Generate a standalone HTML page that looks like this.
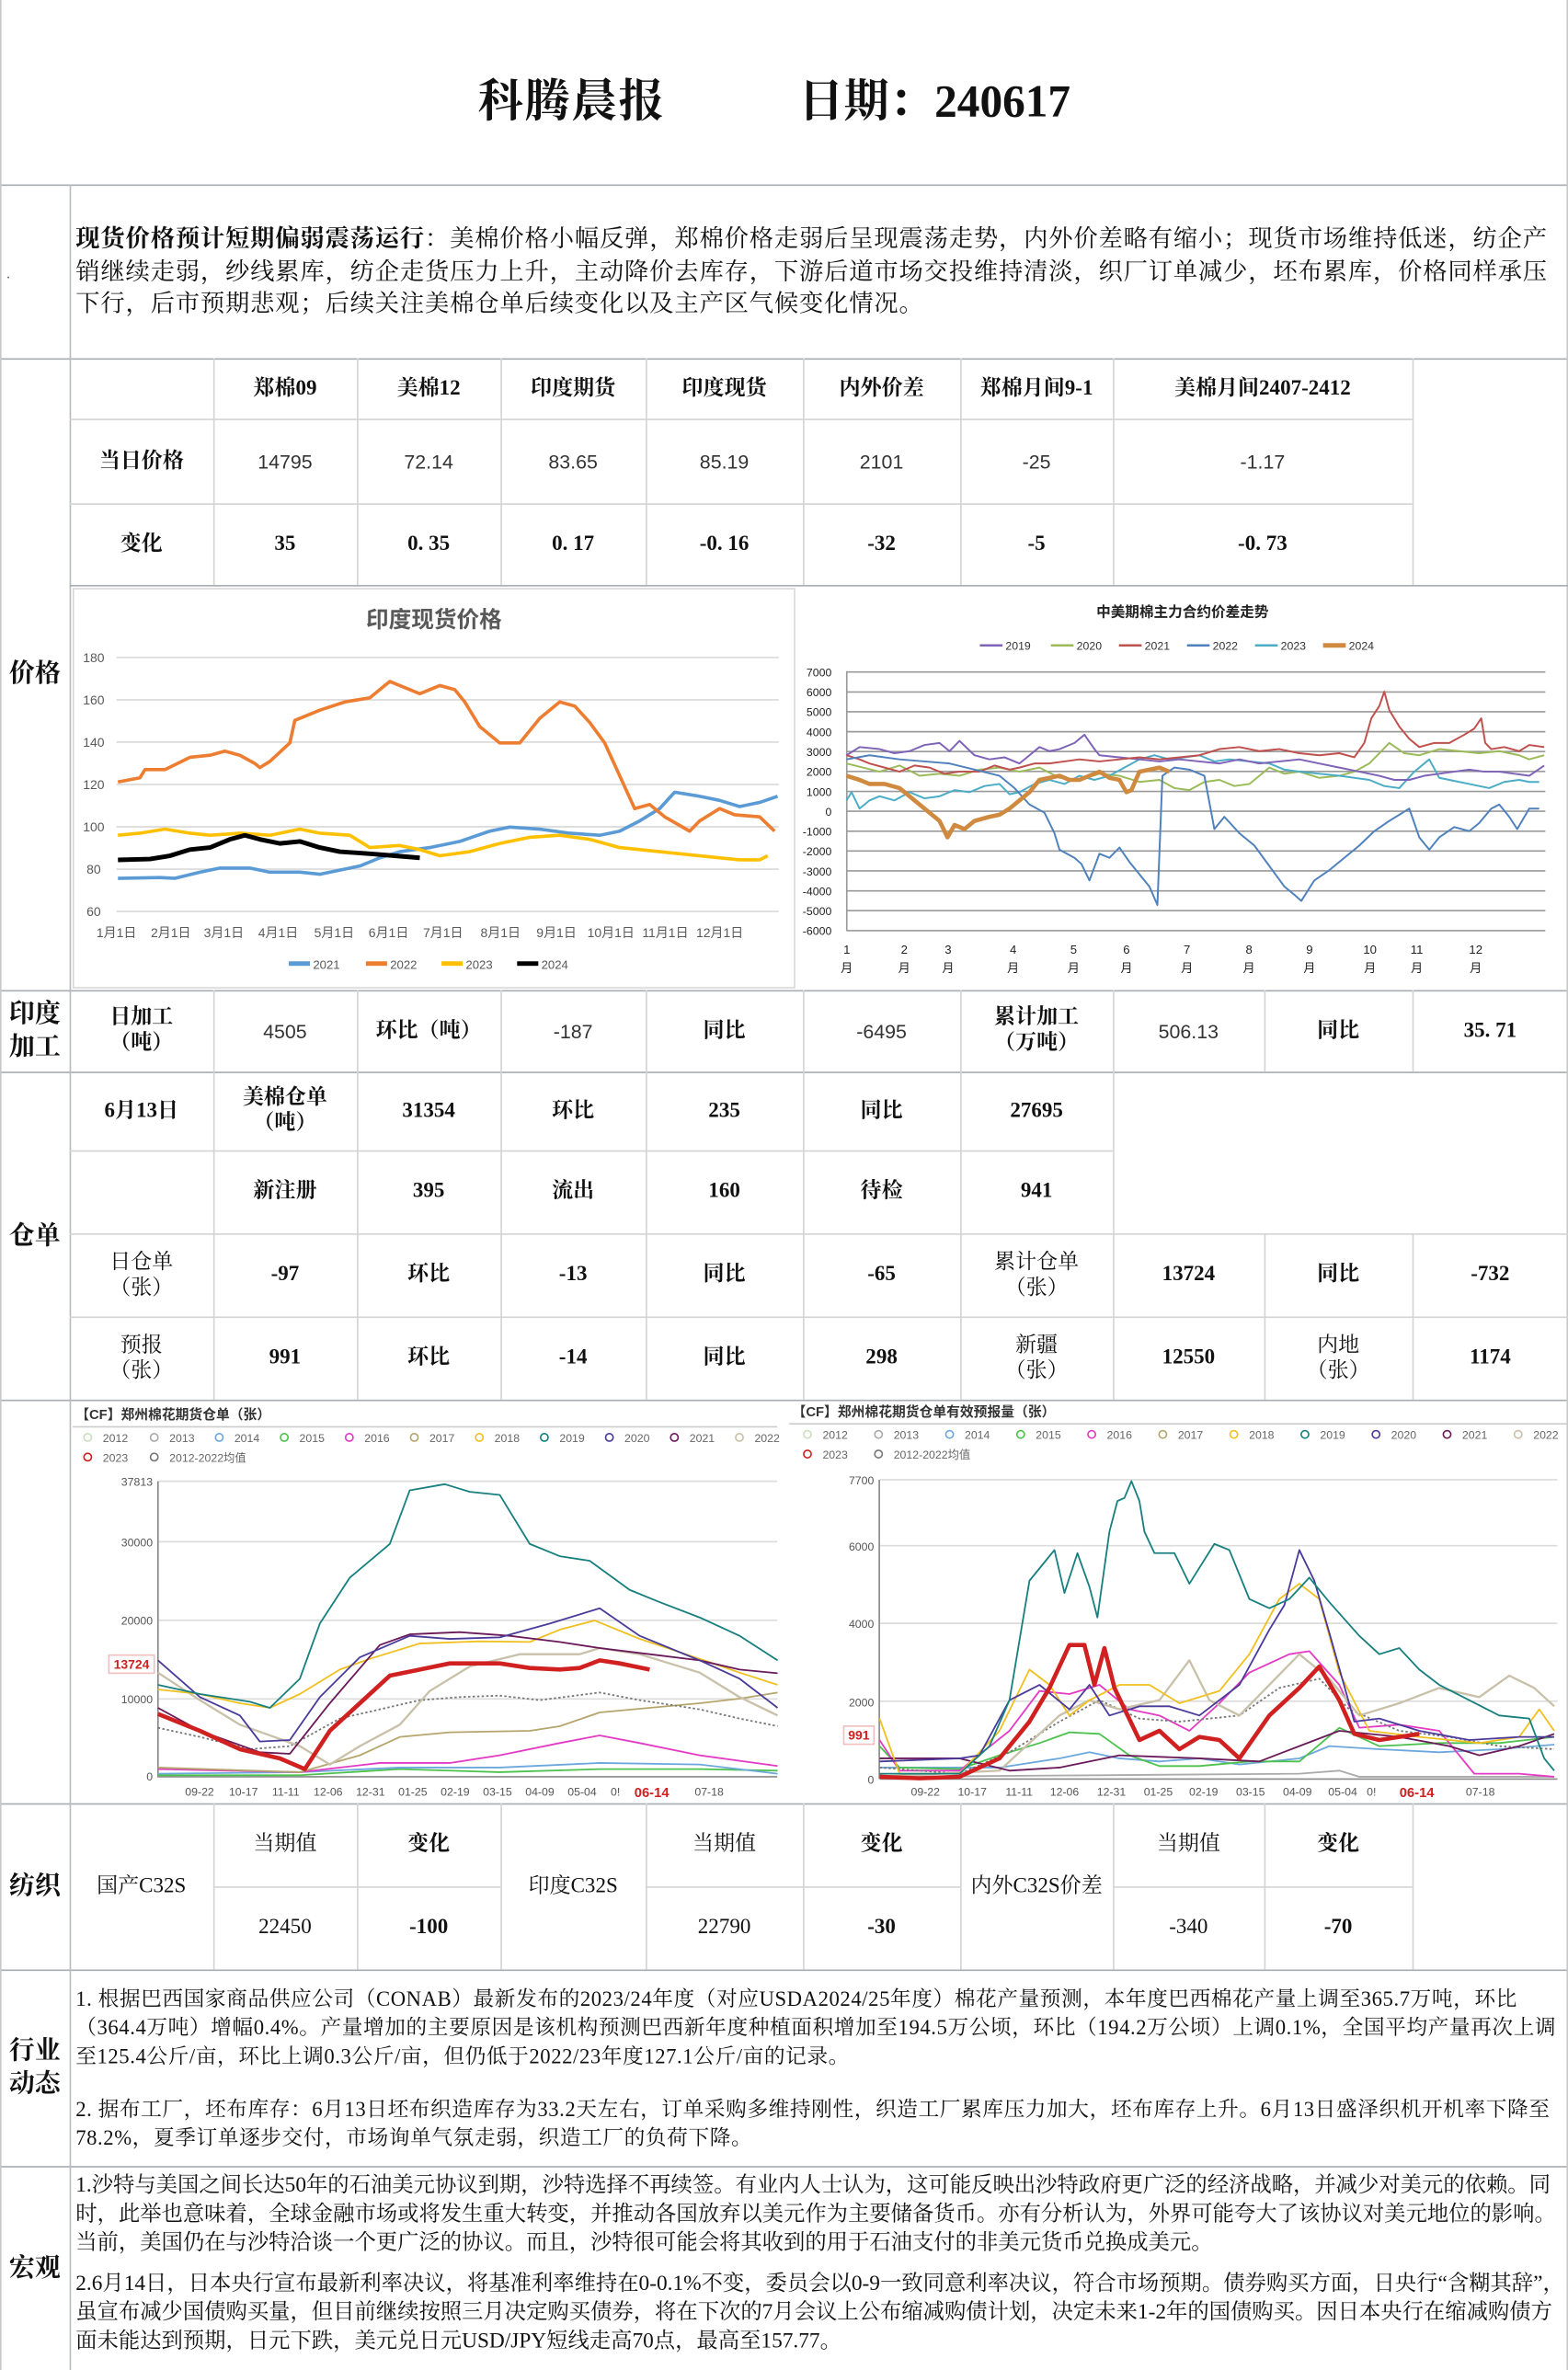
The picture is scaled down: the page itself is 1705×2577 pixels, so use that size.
<!DOCTYPE html>
<html><head><meta charset="utf-8">
<style>
html,body{margin:0;padding:0;background:#fff;}
body{width:1705px;height:2577px;overflow:hidden;}
#root{position:absolute;left:0;top:0;width:1037px;height:1568px;transform:scale(1.6442,1.6435);transform-origin:0 0;font-family:"Liberation Serif","Noto Serif CJK SC",serif;color:#111;}
.c{position:absolute;display:flex;align-items:center;justify-content:center;text-align:center;font-size:14px;line-height:17px;box-sizing:border-box;}
.b{font-weight:bold;}
.s{font-family:"Liberation Sans","Noto Sans CJK SC",sans-serif;font-size:13px;color:#333;}
.h{position:absolute;background:#d4d4d4;height:1px;}
.v{position:absolute;background:#d4d4d4;width:1px;}
.H{position:absolute;background:#a8adb3;height:1px;}
.lab{position:absolute;left:0;width:46px;display:flex;align-items:center;justify-content:center;text-align:center;font-weight:bold;font-size:17px;line-height:22px;}
.p{position:absolute;font-family:"Liberation Serif","Noto Serif CJK SC",serif;}
</style></head><body><div id="root">

<div style="position:absolute;left:316px;top:42px;font-size:30px;font-weight:bold;letter-spacing:1px;">科腾晨报</div>
<div style="position:absolute;left:528px;top:42px;font-size:30px;font-weight:bold;">日期：240617</div>

<div class="H" style="left:0;top:122px;width:1037px"></div>
<div class="H" style="left:0;top:237px;width:1037px"></div>
<div class="H" style="left:0;top:655px;width:1037px"></div>
<div class="H" style="left:0;top:926px;width:1037px"></div>
<div class="H" style="left:0;top:1193px;width:1037px"></div>
<div class="H" style="left:0;top:1303px;width:1037px"></div>
<div class="H" style="left:0;top:1433px;width:1037px"></div>
<div class="H" style="left:0;top:709px;width:1037px"></div>
<div class="v" style="left:46px;top:122px;height:1446px;background:#b8bcc0"></div>
<div class="v" style="left:0;top:0;height:1568px;background:#c8c8c8"></div>
<div class="v" style="left:1036px;top:0;height:1568px;background:#c8c8c8"></div>
<div style="position:absolute;left:5px;top:183px;width:1px;height:1px;background:#555"></div>

<div class="p" style="left:50px;top:148px;width:978px;font-size:16px;letter-spacing:0.5px;line-height:21.5px;"><b>现货价格预计短期偏弱震荡运行</b>：美棉价格小幅反弹，郑棉价格走弱后呈现震荡走势，内外价差略有缩小；现货市场维持低迷，纺企产销继续走弱，纱线累库，纺企走货压力上升，主动降价去库存，下游后道市场交投维持清淡，织厂订单减少，坯布累库，价格同样承压下行，后市预期悲观；后续关注美棉仓单后续变化以及主产区气候变化情况。</div>

<div class="lab" style="top:237px;height:418px">价格</div>
<div class="lab" style="top:655px;height:54px">印度<br>加工</div>
<div class="lab" style="top:709px;height:217px">仓单</div>
<div class="lab" style="top:1193px;height:110px">纺织</div>
<div class="lab" style="top:1303px;height:130px">行业<br>动态</div>
<div class="lab" style="top:1433px;height:135px">宏观</div>

<div class="h" style="left:46px;top:277px;width:888px"></div>
<div class="h" style="left:46px;top:333px;width:888px"></div>
<div class="h" style="left:46px;top:387px;width:991px;background:#a8adb3"></div>
<div class="v" style="left:141px;top:237px;height:150px"></div>
<div class="v" style="left:236px;top:237px;height:150px"></div>
<div class="v" style="left:331px;top:237px;height:150px"></div>
<div class="v" style="left:427px;top:237px;height:150px"></div>
<div class="v" style="left:531px;top:237px;height:150px"></div>
<div class="v" style="left:635px;top:237px;height:150px"></div>
<div class="v" style="left:736px;top:237px;height:150px"></div>
<div class="v" style="left:934px;top:237px;height:150px"></div>

<div class="c b" style="left:141px;top:237px;width:95px;height:40px">郑棉09</div>
<div class="c b" style="left:236px;top:237px;width:95px;height:40px">美棉12</div>
<div class="c b" style="left:331px;top:237px;width:96px;height:40px">印度期货</div>
<div class="c b" style="left:427px;top:237px;width:104px;height:40px">印度现货</div>
<div class="c b" style="left:531px;top:237px;width:104px;height:40px">内外价差</div>
<div class="c b" style="left:635px;top:237px;width:101px;height:40px">郑棉月间9-1</div>
<div class="c b" style="left:736px;top:237px;width:198px;height:40px">美棉月间2407-2412</div>

<div class="c b" style="left:46px;top:277px;width:95px;height:56px">当日价格</div>
<div class="c s" style="left:141px;top:277px;width:95px;height:56px">14795</div>
<div class="c s" style="left:236px;top:277px;width:95px;height:56px">72.14</div>
<div class="c s" style="left:331px;top:277px;width:96px;height:56px">83.65</div>
<div class="c s" style="left:427px;top:277px;width:104px;height:56px">85.19</div>
<div class="c s" style="left:531px;top:277px;width:104px;height:56px">2101</div>
<div class="c s" style="left:635px;top:277px;width:101px;height:56px">-25</div>
<div class="c s" style="left:736px;top:277px;width:198px;height:56px">-1.17</div>

<div class="c b" style="left:46px;top:333px;width:95px;height:54px">变化</div>
<div class="c b" style="left:141px;top:333px;width:95px;height:54px">35</div>
<div class="c b" style="left:236px;top:333px;width:95px;height:54px">0. 35</div>
<div class="c b" style="left:331px;top:333px;width:96px;height:54px">0. 17</div>
<div class="c b" style="left:427px;top:333px;width:104px;height:54px">-0. 16</div>
<div class="c b" style="left:531px;top:333px;width:104px;height:54px">-32</div>
<div class="c b" style="left:635px;top:333px;width:101px;height:54px">-5</div>
<div class="c b" style="left:736px;top:333px;width:198px;height:54px">-0. 73</div>

<div class="v" style="left:141px;top:655px;height:271px"></div>
<div class="v" style="left:236px;top:655px;height:271px"></div>
<div class="v" style="left:331px;top:655px;height:271px"></div>
<div class="v" style="left:427px;top:655px;height:271px"></div>
<div class="v" style="left:531px;top:655px;height:271px"></div>
<div class="v" style="left:635px;top:655px;height:271px"></div>
<div class="v" style="left:736px;top:655px;height:271px"></div>
<div class="v" style="left:836px;top:655px;height:54px"></div>
<div class="v" style="left:934px;top:655px;height:54px"></div>
<div class="v" style="left:836px;top:816px;height:110px"></div>
<div class="v" style="left:934px;top:816px;height:110px"></div>
<div class="c b" style="left:46px;top:655px;width:95px;height:54px">日加工<br>（吨）</div>
<div class="c s" style="left:141px;top:655px;width:95px;height:54px">4505</div>
<div class="c b" style="left:236px;top:655px;width:95px;height:54px">环比（吨）</div>
<div class="c s" style="left:331px;top:655px;width:96px;height:54px">-187</div>
<div class="c b" style="left:427px;top:655px;width:104px;height:54px">同比</div>
<div class="c s" style="left:531px;top:655px;width:104px;height:54px">-6495</div>
<div class="c b" style="left:635px;top:655px;width:101px;height:54px">累计加工<br>（万吨）</div>
<div class="c s" style="left:736px;top:655px;width:100px;height:54px">506.13</div>
<div class="c b" style="left:836px;top:655px;width:98px;height:54px">同比</div>
<div class="c b" style="left:934px;top:655px;width:103px;height:54px">35. 71</div>

<div class="h" style="left:46px;top:761px;width:690px"></div>
<div class="h" style="left:46px;top:816px;width:991px"></div>
<div class="h" style="left:46px;top:871px;width:991px"></div>
<div class="c b" style="left:46px;top:709px;width:95px;height:52px">6月13日</div>
<div class="c b" style="left:141px;top:709px;width:95px;height:52px">美棉仓单<br>（吨）</div>
<div class="c b" style="left:236px;top:709px;width:95px;height:52px">31354</div>
<div class="c b" style="left:331px;top:709px;width:96px;height:52px">环比</div>
<div class="c b" style="left:427px;top:709px;width:104px;height:52px">235</div>
<div class="c b" style="left:531px;top:709px;width:104px;height:52px">同比</div>
<div class="c b" style="left:635px;top:709px;width:101px;height:52px">27695</div>

<div class="c b" style="left:141px;top:761px;width:95px;height:55px">新注册</div>
<div class="c b" style="left:236px;top:761px;width:95px;height:55px">395</div>
<div class="c b" style="left:331px;top:761px;width:96px;height:55px">流出</div>
<div class="c b" style="left:427px;top:761px;width:104px;height:55px">160</div>
<div class="c b" style="left:531px;top:761px;width:104px;height:55px">待检</div>
<div class="c b" style="left:635px;top:761px;width:101px;height:55px">941</div>

<div class="c" style="left:46px;top:816px;width:95px;height:55px">日仓单<br>（张）</div>
<div class="c b" style="left:141px;top:816px;width:95px;height:55px">-97</div>
<div class="c b" style="left:236px;top:816px;width:95px;height:55px">环比</div>
<div class="c b" style="left:331px;top:816px;width:96px;height:55px">-13</div>
<div class="c b" style="left:427px;top:816px;width:104px;height:55px">同比</div>
<div class="c b" style="left:531px;top:816px;width:104px;height:55px">-65</div>
<div class="c" style="left:635px;top:816px;width:101px;height:55px">累计仓单<br>（张）</div>
<div class="c b" style="left:736px;top:816px;width:100px;height:55px">13724</div>
<div class="c b" style="left:836px;top:816px;width:98px;height:55px">同比</div>
<div class="c b" style="left:934px;top:816px;width:103px;height:55px">-732</div>

<div class="c" style="left:46px;top:871px;width:95px;height:55px">预报<br>（张）</div>
<div class="c b" style="left:141px;top:871px;width:95px;height:55px">991</div>
<div class="c b" style="left:236px;top:871px;width:95px;height:55px">环比</div>
<div class="c b" style="left:331px;top:871px;width:96px;height:55px">-14</div>
<div class="c b" style="left:427px;top:871px;width:104px;height:55px">同比</div>
<div class="c b" style="left:531px;top:871px;width:104px;height:55px">298</div>
<div class="c" style="left:635px;top:871px;width:101px;height:55px">新疆<br>（张）</div>
<div class="c b" style="left:736px;top:871px;width:100px;height:55px">12550</div>
<div class="c" style="left:836px;top:871px;width:98px;height:55px">内地<br>（张）</div>
<div class="c b" style="left:934px;top:871px;width:103px;height:55px">1174</div>

<div class="h" style="left:141px;top:1248px;width:190px"></div>
<div class="h" style="left:427px;top:1248px;width:208px"></div>
<div class="h" style="left:736px;top:1248px;width:198px"></div>
<div class="v" style="left:141px;top:1193px;height:110px"></div>
<div class="v" style="left:236px;top:1193px;height:110px"></div>
<div class="v" style="left:331px;top:1193px;height:110px"></div>
<div class="v" style="left:427px;top:1193px;height:110px"></div>
<div class="v" style="left:531px;top:1193px;height:110px"></div>
<div class="v" style="left:635px;top:1193px;height:110px"></div>
<div class="v" style="left:736px;top:1193px;height:110px"></div>
<div class="v" style="left:836px;top:1193px;height:110px"></div>
<div class="v" style="left:934px;top:1193px;height:110px"></div>
<div class="c" style="left:46px;top:1193px;width:95px;height:110px">国产C32S</div>
<div class="c" style="left:141px;top:1193px;width:95px;height:55px">当期值</div>
<div class="c b" style="left:236px;top:1193px;width:95px;height:55px">变化</div>
<div class="c" style="left:331px;top:1193px;width:96px;height:110px">印度C32S</div>
<div class="c" style="left:427px;top:1193px;width:104px;height:55px">当期值</div>
<div class="c b" style="left:531px;top:1193px;width:104px;height:55px">变化</div>
<div class="c" style="left:635px;top:1193px;width:101px;height:110px">内外C32S价差</div>
<div class="c" style="left:736px;top:1193px;width:100px;height:55px">当期值</div>
<div class="c b" style="left:836px;top:1193px;width:98px;height:55px">变化</div>
<div class="c" style="left:141px;top:1248px;width:95px;height:55px">22450</div>
<div class="c b" style="left:236px;top:1248px;width:95px;height:55px">-100</div>
<div class="c" style="left:427px;top:1248px;width:104px;height:55px">22790</div>
<div class="c b" style="left:531px;top:1248px;width:104px;height:55px">-30</div>
<div class="c" style="left:736px;top:1248px;width:100px;height:55px">-340</div>
<div class="c b" style="left:836px;top:1248px;width:98px;height:55px">-70</div>

<div class="p" style="left:50px;top:1313px;width:986px;font-size:13.8px;letter-spacing:0.35px;line-height:19px;">1.&nbsp;根据巴西国家商品供应公司（CONAB）最新发布的2023/24年度（对应USDA2024/25年度）棉花产量预测，本年度巴西棉花产量上调至365.7万吨，环比（364.4万吨）增幅0.4%。产量增加的主要原因是该机构预测巴西新年度种植面积增加至194.5万公顷，环比（194.2万公顷）上调0.1%，全国平均产量再次上调至125.4公斤/亩，环比上调0.3公斤/亩，但仍低于2022/23年度127.1公斤/亩的记录。</div>
<div class="p" style="left:50px;top:1386px;width:986px;font-size:13.8px;letter-spacing:0.35px;line-height:19px;">2.&nbsp;据布工厂，坯布库存：6月13日坯布织造库存为33.2天左右，订单采购多维持刚性，织造工厂累库压力加大，坯布库存上升。6月13日盛泽织机开机率下降至78.2%，夏季订单逐步交付，市场询单气氛走弱，织造工厂的负荷下降。</div>

<div class="p" style="left:50px;top:1437px;width:986px;font-size:14.2px;line-height:18.8px;">1.沙特与美国之间长达50年的石油美元协议到期，沙特选择不再续签。有业内人士认为，这可能反映出沙特政府更广泛的经济战略，并减少对美元的依赖。同时，此举也意味着，全球金融市场或将发生重大转变，并推动各国放弃以美元作为主要储备货币。亦有分析认为，外界可能夸大了该协议对美元地位的影响。当前，美国仍在与沙特洽谈一个更广泛的协议。而且，沙特很可能会将其收到的用于石油支付的非美元货币兑换成美元。</div>
<div class="p" style="left:50px;top:1502px;width:986px;font-size:14.2px;line-height:18.8px;">2.6月14日，日本央行宣布最新利率决议，将基准利率维持在0-0.1%不变，委员会以0-9一致同意利率决议，符合市场预期。债券购买方面，日央行“含糊其辞”，虽宣布减少国债购买量，但目前继续按照三月决定购买债券，将在下次的7月会议上公布缩减购债计划，决定未来1-2年的国债购买。因日本央行在缩减购债方面未能达到预期，日元下跌，美元兑日元USD/JPY短线走高70点，最高至157.77。</div>

<svg style="position:absolute;left:0;top:0" width="1037" height="1568" viewBox="0 0 1037 1568" font-family="Liberation Sans, Noto Sans CJK SC, sans-serif">
<rect x="48.5" y="389.5" width="477" height="264" fill="none" stroke="#d8d8d8"/>
<text x="287" y="415" font-size="15" fill="#595959" text-anchor="middle" font-weight="bold">印度现货价格</text>
<g stroke="#d9d9d9" stroke-width="1">
<line x1="77" x2="515" y1="435" y2="435"/><line x1="77" x2="515" y1="463" y2="463"/><line x1="77" x2="515" y1="491" y2="491"/><line x1="77" x2="515" y1="519" y2="519"/><line x1="77" x2="515" y1="547" y2="547"/><line x1="77" x2="515" y1="575" y2="575"/><line x1="77" x2="515" y1="603" y2="603"/>
</g>
<g font-size="8.5" fill="#595959" text-anchor="middle">
<text x="62" y="438">180</text><text x="62" y="466">160</text><text x="62" y="494">140</text><text x="62" y="522">120</text><text x="62" y="550">100</text><text x="62" y="578">80</text><text x="62" y="606">60</text>
<text x="77" y="620">1月1日</text><text x="113" y="620">2月1日</text><text x="148" y="620">3月1日</text><text x="184" y="620">4月1日</text><text x="221" y="620">5月1日</text><text x="257" y="620">6月1日</text><text x="293" y="620">7月1日</text><text x="331" y="620">8月1日</text><text x="368" y="620">9月1日</text><text x="404" y="620">10月1日</text><text x="440" y="620">11月1日</text><text x="476" y="620">12月1日</text>
</g>
<g font-size="8" fill="#595959">
<rect x="191" y="636" width="14" height="3" fill="#5b9bd5"/><text x="207" y="641">2021</text>
<rect x="242" y="636" width="14" height="3" fill="#ed7d31"/><text x="258" y="641">2022</text>
<rect x="292" y="636" width="14" height="3" fill="#ffc000"/><text x="308" y="641">2023</text>
<rect x="342" y="636" width="14" height="3" fill="#000"/><text x="358" y="641">2024</text>
</g>
<g transform="translate(0,231) scale(0.661,0.2714)" fill="none" stroke-linejoin="round">
<polyline vector-effect="non-scaling-stroke" stroke="#5b9bd5" stroke-width="2.2" points="118,1290 160,1288 175,1290 200,1275 220,1265 250,1265 270,1275 300,1275 320,1280 340,1270 360,1260 380,1240 400,1225 430,1215 460,1200 490,1175 510,1165 540,1170 570,1180 600,1185 620,1175 640,1150 660,1120 675,1080 700,1090 720,1100 740,1115 760,1105 778,1090"/>
<polyline vector-effect="non-scaling-stroke" stroke="#ffc000" stroke-width="2.2" points="118,1185 140,1180 165,1170 190,1180 210,1185 240,1180 270,1185 300,1170 320,1180 350,1185 370,1215 400,1210 420,1220 440,1235 470,1225 500,1205 530,1190 560,1185 590,1195 620,1215 660,1225 700,1235 740,1245 760,1245 768,1235"/>
<polyline vector-effect="non-scaling-stroke" stroke="#ed7d31" stroke-width="2.2" points="118,1055 140,1045 145,1025 165,1025 190,995 210,990 225,980 240,990 255,1010 260,1020 270,1005 290,960 295,905 320,880 345,860 370,850 390,810 400,820 420,840 440,820 455,830 465,860 480,920 500,960 520,960 540,900 560,860 575,870 590,910 605,960 620,1040 635,1120 650,1110 665,1140 690,1175 700,1150 720,1120 735,1135 760,1140 775,1175"/>
<polyline vector-effect="non-scaling-stroke" stroke="#000" stroke-width="3" points="118,1245 150,1243 170,1235 190,1220 210,1215 230,1195 245,1185 260,1195 280,1205 300,1200 320,1215 340,1225 370,1230 395,1235 420,1240"/>
</g>

<text x="782" y="408" font-size="9.5" font-weight="bold" text-anchor="middle" fill="#222">中美期棉主力合约价差走势</text>
<g font-size="7.5" fill="#333">
<line x1="648" x2="663" y1="427" y2="427" stroke="#7f63b8" stroke-width="1.5"/><text x="665" y="430">2019</text>
<line x1="695" x2="710" y1="427" y2="427" stroke="#9bbb59" stroke-width="1.5"/><text x="712" y="430">2020</text>
<line x1="740" x2="755" y1="427" y2="427" stroke="#c0504d" stroke-width="1.5"/><text x="757" y="430">2021</text>
<line x1="785" x2="800" y1="427" y2="427" stroke="#4f81bd" stroke-width="1.5"/><text x="802" y="430">2022</text>
<line x1="830" x2="845" y1="427" y2="427" stroke="#4bacc6" stroke-width="1.5"/><text x="847" y="430">2023</text>
<line x1="875" x2="890" y1="427" y2="427" stroke="#d08a40" stroke-width="3"/><text x="892" y="430">2024</text>
</g>
<g stroke="#9a9a9a" stroke-width="1">
<line x1="560" x2="1022" y1="444.6" y2="444.6"/><line x1="560" x2="1022" y1="457.8" y2="457.8"/><line x1="560" x2="1022" y1="470.9" y2="470.9"/><line x1="560" x2="1022" y1="484.1" y2="484.1"/><line x1="560" x2="1022" y1="497.2" y2="497.2"/><line x1="560" x2="1022" y1="510.4" y2="510.4"/><line x1="560" x2="1022" y1="523.6" y2="523.6"/><line x1="560" x2="1022" y1="536.7" y2="536.7"/><line x1="560" x2="1022" y1="549.9" y2="549.9"/><line x1="560" x2="1022" y1="563" y2="563"/><line x1="560" x2="1022" y1="576.2" y2="576.2"/><line x1="560" x2="1022" y1="589.4" y2="589.4"/><line x1="560" x2="1022" y1="602.5" y2="602.5"/><line x1="560" x2="1022" y1="615.7" y2="615.7"/>
<line x1="560" x2="560" y1="444" y2="616"/>
</g>
<g font-size="7.5" fill="#222" text-anchor="end">
<text x="550" y="447.5">7000</text><text x="550" y="460.7">6000</text><text x="550" y="473.8">5000</text><text x="550" y="487">4000</text><text x="550" y="500.1">3000</text><text x="550" y="513.3">2000</text><text x="550" y="526.5">1000</text><text x="550" y="539.6">0</text><text x="550" y="552.8">-1000</text><text x="550" y="565.9">-2000</text><text x="550" y="579.1">-3000</text><text x="550" y="592.3">-4000</text><text x="550" y="605.4">-5000</text><text x="550" y="618.6">-6000</text>
</g>
<g font-size="8" fill="#222" text-anchor="middle">
<text x="560" y="631">1</text><text x="598" y="631">2</text><text x="627" y="631">3</text><text x="670" y="631">4</text><text x="710" y="631">5</text><text x="745" y="631">6</text><text x="785" y="631">7</text><text x="826" y="631">8</text><text x="866" y="631">9</text><text x="906" y="631">10</text><text x="937" y="631">11</text><text x="976" y="631">12</text>
<text x="560" y="643">月</text><text x="598" y="643">月</text><text x="627" y="643">月</text><text x="670" y="643">月</text><text x="710" y="643">月</text><text x="745" y="643">月</text><text x="785" y="643">月</text><text x="826" y="643">月</text><text x="866" y="643">月</text><text x="906" y="643">月</text><text x="937" y="643">月</text><text x="976" y="643">月</text>
</g>
<g transform="translate(0,231) scale(0.661,0.2714)" fill="none" stroke-width="1.2" stroke-linejoin="round">
<polyline vector-effect="non-scaling-stroke" stroke="#9bbb59" points="847,1010 880,1030 900,1015 920,1040 940,1035 960,1040 980,1025 1000,1020 1020,1030 1040,1020 1060,1045 1080,1050 1100,1035 1120,1040 1140,1055 1160,1050 1175,1070 1190,1075 1205,1055 1220,1050 1235,1065 1250,1060 1270,1020 1285,1035 1300,1030 1320,1045 1340,1040 1355,1030 1370,1010 1390,960 1405,985 1420,990 1440,975 1460,980 1480,985 1500,980 1520,990 1530,1000 1545,990"/>
<polyline vector-effect="non-scaling-stroke" stroke="#4bacc6" points="847,1100 852,1080 860,1120 870,1100 880,1090 895,1100 910,1080 925,1095 940,1090 955,1075 970,1080 985,1065 1000,1060 1010,1085 1020,1080 1035,1060 1050,1050 1065,1060 1080,1040 1095,1050 1110,1040 1125,1020 1140,1000 1155,990 1170,1000 1185,995 1200,990 1215,1005 1230,1000 1250,1005 1270,1010 1285,1025 1300,1030 1320,1035 1340,1040 1355,1045 1370,1050 1385,1065 1400,1070 1415,1030 1430,1000 1440,1045 1450,1050 1470,1060 1490,1070 1505,1055 1520,1050 1530,1055 1540,1055"/>
<polyline vector-effect="non-scaling-stroke" stroke="#7f63b8" points="847,990 860,970 880,975 895,985 910,980 925,965 940,960 950,980 960,955 975,990 990,1000 1005,995 1020,1010 1030,990 1040,970 1050,980 1060,975 1075,960 1085,940 1095,975 1100,990 1120,995 1140,1000 1160,1005 1180,1000 1200,1005 1220,1010 1240,1000 1260,1010 1280,1005 1300,1000 1320,1010 1340,1020 1360,1030 1380,1040 1395,1050 1410,1050 1425,1040 1440,1035 1455,1030 1470,1025 1485,1030 1500,1030 1515,1035 1530,1040 1545,1015"/>
<polyline vector-effect="non-scaling-stroke" stroke="#c0504d" points="847,990 860,1000 870,1010 885,1020 900,1030 915,1015 930,1020 945,1035 960,1030 980,1030 995,1015 1010,1025 1020,1020 1035,1010 1050,1010 1065,1005 1080,1000 1100,1005 1120,1000 1140,995 1160,1000 1180,995 1200,990 1220,975 1240,970 1260,980 1280,975 1300,985 1320,990 1340,985 1355,995 1365,960 1372,900 1380,870 1385,835 1390,880 1400,920 1410,950 1420,970 1435,960 1450,960 1465,940 1475,925 1482,900 1486,960 1492,975 1505,970 1520,980 1530,965 1545,970"/>
<polyline vector-effect="non-scaling-stroke" stroke="#4f81bd" points="847,1000 870,990 900,1000 925,1005 950,1010 975,1025 1000,1040 1015,1070 1030,1110 1045,1130 1055,1180 1060,1220 1075,1240 1082,1255 1090,1295 1100,1230 1110,1240 1120,1215 1130,1250 1140,1280 1150,1310 1158,1355 1163,1040 1175,1020 1190,1025 1205,1040 1215,1170 1225,1140 1240,1180 1255,1210 1270,1260 1285,1310 1295,1330 1302,1345 1315,1295 1330,1270 1345,1240 1360,1210 1375,1175 1390,1150 1410,1120 1420,1190 1430,1220 1440,1190 1455,1165 1470,1175 1480,1155 1492,1120 1500,1110 1510,1140 1518,1170 1530,1120 1540,1120"/>
<polyline vector-effect="non-scaling-stroke" stroke="#d08a40" stroke-width="2.8" points="847,1040 860,1050 870,1060 885,1060 900,1070 910,1090 920,1110 930,1130 940,1150 948,1190 955,1160 965,1170 975,1150 990,1140 1000,1135 1010,1120 1020,1100 1030,1080 1040,1050 1050,1045 1060,1040 1070,1050 1080,1050 1090,1040 1100,1030 1110,1045 1120,1050 1127,1080 1132,1075 1140,1030 1150,1025 1160,1020 1170,1030"/>
</g>

<text x="50" y="939" font-size="9" font-weight="bold" fill="#333">【CF】郑州棉花期货仓单（张）</text>
<line x1="48" x2="514" y1="944" y2="944" stroke="#ccc"/>
<g font-size="7.5" fill="#666">
<circle cx="58" cy="951" r="2.5" fill="#fff" stroke="#c9e0c0"/><text x="68" y="954">2012</text>
<circle cx="102" cy="951" r="2.5" fill="#fff" stroke="#aaa"/><text x="112" y="954">2013</text>
<circle cx="145" cy="951" r="2.5" fill="#fff" stroke="#6ca8dd"/><text x="155" y="954">2014</text>
<circle cx="188" cy="951" r="2.5" fill="#fff" stroke="#4cc24c"/><text x="198" y="954">2015</text>
<circle cx="231" cy="951" r="2.5" fill="#fff" stroke="#e43bc4"/><text x="241" y="954">2016</text>
<circle cx="274" cy="951" r="2.5" fill="#fff" stroke="#b5a56c"/><text x="284" y="954">2017</text>
<circle cx="317" cy="951" r="2.5" fill="#fff" stroke="#f0c020"/><text x="327" y="954">2018</text>
<circle cx="360" cy="951" r="2.5" fill="#fff" stroke="#17807f"/><text x="370" y="954">2019</text>
<circle cx="403" cy="951" r="2.5" fill="#fff" stroke="#4a3a9a"/><text x="413" y="954">2020</text>
<circle cx="446" cy="951" r="2.5" fill="#fff" stroke="#6a1a5a"/><text x="456" y="954">2021</text>
<circle cx="489" cy="951" r="2.5" fill="#fff" stroke="#c8c0a8"/><text x="499" y="954">2022</text>
<circle cx="58" cy="964" r="2.5" fill="#fff" stroke="#d02020"/><text x="68" y="967">2023</text>
<circle cx="102" cy="964" r="2.5" fill="#fff" stroke="#777"/><text x="112" y="967">2012-2022均值</text>
</g>
<g stroke="#dcdcdc"><line x1="105" x2="514" y1="980" y2="980"/><line x1="105" x2="514" y1="1020" y2="1020"/><line x1="105" x2="514" y1="1072" y2="1072"/><line x1="105" x2="514" y1="1124" y2="1124"/><line x1="105" x2="514" y1="1175.5" y2="1175.5" stroke="#888"/><line x1="104.5" x2="104.5" y1="980" y2="1176" stroke="#888"/></g>
<g font-size="7.5" fill="#555" text-anchor="end">
<text x="101" y="983">37813</text><text x="101" y="1023">30000</text><text x="101" y="1075">20000</text><text x="101" y="1127">10000</text><text x="101" y="1178">0</text>
</g>
<rect x="72" y="1095" width="30" height="12" fill="#fff" stroke="#f0c0c0"/>
<text x="87" y="1104" font-size="8.5" fill="#d02020" font-weight="bold" text-anchor="middle">13724</text>
<g font-size="7.5" fill="#555" text-anchor="middle">
<text x="132" y="1188">09-22</text><text x="161" y="1188">10-17</text><text x="189" y="1188">11-11</text><text x="217" y="1188">12-06</text><text x="245" y="1188">12-31</text><text x="273" y="1188">01-25</text><text x="301" y="1188">02-19</text><text x="329" y="1188">03-15</text><text x="357" y="1188">04-09</text><text x="385" y="1188">05-04</text><text x="407" y="1188">0!</text><text x="469" y="1188">07-18</text>
<text x="431" y="1189" font-size="9" fill="#d02020" font-weight="bold">06-14</text>
</g>
<g transform="translate(0,912) scale(0.661,0.2027)" fill="none" stroke-width="1.1" stroke-linejoin="round">
<polyline vector-effect="non-scaling-stroke" stroke="#4cc24c" points="158,1295 300,1295 400,1275 500,1285 600,1275 700,1275 778,1280"/>
<polyline vector-effect="non-scaling-stroke" stroke="#6ca8dd" points="158,1290 300,1285 400,1270 500,1270 600,1255 700,1260 778,1290"/>
<polyline vector-effect="non-scaling-stroke" stroke="#e43bc4" points="158,1275 300,1285 380,1255 450,1255 500,1230 560,1190 600,1165 640,1190 700,1230 778,1265"/>
<polyline vector-effect="non-scaling-stroke" stroke="#b5a56c" points="158,1270 300,1285 360,1230 400,1170 450,1155 530,1150 560,1135 600,1090 650,1075 700,1060 740,1045 778,1025"/>
<polyline vector-effect="non-scaling-stroke" stroke="#777" stroke-dasharray="1.5,1.5" points="158,1140 200,1170 250,1210 290,1200 340,1110 380,1080 420,1050 460,1040 500,1035 540,1050 600,1025 640,1050 700,1080 740,1110 778,1135"/>
<polyline vector-effect="non-scaling-stroke" stroke="#c8c0a8" stroke-width="1.4" points="158,960 200,1050 240,1130 270,1165 300,1200 330,1260 360,1200 400,1130 430,1020 470,940 520,900 580,900 600,880 640,900 700,960 740,1040 778,1100"/>
<polyline vector-effect="non-scaling-stroke" stroke="#f0c020" points="158,1015 200,1030 240,1060 270,1075 300,1030 340,950 370,915 420,865 480,858 530,860 560,820 595,790 640,850 700,915 740,960 778,1000"/>
<polyline vector-effect="non-scaling-stroke" stroke="#6a1a5a" points="158,1075 200,1150 260,1220 290,1225 330,1060 380,870 410,835 460,828 510,840 560,860 600,880 650,900 700,920 740,950 778,962"/>
<polyline vector-effect="non-scaling-stroke" stroke="#4a3a9a" points="158,920 200,1040 240,1100 260,1185 290,1180 320,1040 360,910 410,840 450,850 500,845 550,800 600,750 640,840 700,920 740,980 778,1075"/>
<polyline vector-effect="non-scaling-stroke" stroke="#17807f" points="158,1000 200,1030 250,1055 270,1075 300,980 320,800 350,650 390,540 410,365 445,345 470,370 500,380 530,540 560,580 590,595 630,690 660,730 700,780 740,840 778,920"/>
<polyline vector-effect="non-scaling-stroke" stroke="#d02020" stroke-width="2.8" points="158,1095 200,1150 240,1210 280,1240 305,1275 330,1150 360,1060 390,970 420,950 450,930 500,930 530,945 560,950 580,945 600,920 620,930 650,950"/>
</g>

<text x="524" y="937" font-size="9" font-weight="bold" fill="#333">【CF】郑州棉花期货仓单有效预报量（张）</text>
<line x1="522" x2="1036" y1="942" y2="942" stroke="#ccc"/>
<g font-size="7.5" fill="#666">
<circle cx="534" cy="949" r="2.5" fill="#fff" stroke="#c9e0c0"/><text x="544" y="952">2012</text>
<circle cx="581" cy="949" r="2.5" fill="#fff" stroke="#aaa"/><text x="591" y="952">2013</text>
<circle cx="628" cy="949" r="2.5" fill="#fff" stroke="#6ca8dd"/><text x="638" y="952">2014</text>
<circle cx="675" cy="949" r="2.5" fill="#fff" stroke="#4cc24c"/><text x="685" y="952">2015</text>
<circle cx="722" cy="949" r="2.5" fill="#fff" stroke="#e43bc4"/><text x="732" y="952">2016</text>
<circle cx="769" cy="949" r="2.5" fill="#fff" stroke="#b5a56c"/><text x="779" y="952">2017</text>
<circle cx="816" cy="949" r="2.5" fill="#fff" stroke="#f0c020"/><text x="826" y="952">2018</text>
<circle cx="863" cy="949" r="2.5" fill="#fff" stroke="#17807f"/><text x="873" y="952">2019</text>
<circle cx="910" cy="949" r="2.5" fill="#fff" stroke="#4a3a9a"/><text x="920" y="952">2020</text>
<circle cx="957" cy="949" r="2.5" fill="#fff" stroke="#6a1a5a"/><text x="967" y="952">2021</text>
<circle cx="1004" cy="949" r="2.5" fill="#fff" stroke="#c8c0a8"/><text x="1014" y="952">2022</text>
<circle cx="534" cy="962" r="2.5" fill="#fff" stroke="#d02020"/><text x="544" y="965">2023</text>
<circle cx="581" cy="962" r="2.5" fill="#fff" stroke="#777"/><text x="591" y="965">2012-2022均值</text>
</g>
<g stroke="#dcdcdc"><line x1="582" x2="1030" y1="979" y2="979"/><line x1="582" x2="1030" y1="1022.6" y2="1022.6"/><line x1="582" x2="1030" y1="1074" y2="1074"/><line x1="582" x2="1030" y1="1125.5" y2="1125.5"/><line x1="582" x2="1030" y1="1177" y2="1177" stroke="#888"/><line x1="581.5" x2="581.5" y1="979" y2="1177" stroke="#888"/></g>
<g font-size="7.5" fill="#555" text-anchor="end">
<text x="578" y="982">7700</text><text x="578" y="1026">6000</text><text x="578" y="1077">4000</text><text x="578" y="1129">2000</text><text x="578" y="1180">0</text>
</g>
<rect x="558" y="1142" width="20" height="12" fill="#fff" stroke="#f0c0c0"/>
<text x="568" y="1151" font-size="8.5" fill="#d02020" font-weight="bold" text-anchor="middle">991</text>
<g font-size="7.5" fill="#555" text-anchor="middle">
<text x="612" y="1188">09-22</text><text x="643" y="1188">10-17</text><text x="674" y="1188">11-11</text><text x="704" y="1188">12-06</text><text x="735" y="1188">12-31</text><text x="766" y="1188">01-25</text><text x="796" y="1188">02-19</text><text x="827" y="1188">03-15</text><text x="858" y="1188">04-09</text><text x="888" y="1188">05-04</text><text x="907" y="1188">0!</text><text x="979" y="1188">07-18</text>
<text x="937" y="1189" font-size="9" fill="#d02020" font-weight="bold">06-14</text>
</g>
<g transform="translate(0,912) scale(0.661,0.2027)" fill="none" stroke-width="1.1" stroke-linejoin="round">
<polyline vector-effect="non-scaling-stroke" stroke="#aaa" points="880,1300 1100,1295 1300,1290 1340,1280 1360,1300 1555,1300"/>
<polyline vector-effect="non-scaling-stroke" stroke="#6ca8dd" points="880,1270 1000,1270 1060,1240 1090,1220 1120,1240 1160,1250 1200,1240 1240,1260 1300,1240 1330,1200 1380,1210 1440,1220 1500,1210 1555,1195"/>
<polyline vector-effect="non-scaling-stroke" stroke="#4cc24c" points="880,1200 900,1270 960,1275 1000,1230 1040,1190 1070,1155 1100,1160 1130,1230 1160,1265 1200,1265 1250,1250 1300,1250 1340,1140 1380,1200 1440,1190 1500,1190 1555,1170"/>
<polyline vector-effect="non-scaling-stroke" stroke="#e43bc4" points="880,1180 900,1280 960,1280 1010,1150 1040,1020 1070,1030 1100,1000 1130,1080 1160,1100 1190,1150 1220,1060 1250,960 1290,900 1310,890 1340,1000 1360,1140 1400,1130 1440,1150 1475,1290 1520,1290 1555,1300"/>
<polyline vector-effect="non-scaling-stroke" stroke="#777" stroke-dasharray="1.5,1.5" points="880,1270 960,1290 1010,1220 1060,1120 1100,1050 1140,1110 1180,1120 1240,1100 1280,1010 1320,980 1350,1080 1400,1150 1450,1170 1500,1200 1555,1210"/>
<polyline vector-effect="non-scaling-stroke" stroke="#c8c0a8" stroke-width="1.4" points="880,1300 1000,1280 1060,1100 1090,1050 1120,1080 1160,1050 1190,920 1210,1050 1240,1100 1270,1000 1300,900 1330,980 1360,1100 1400,1060 1440,1010 1480,1040 1510,970 1535,1010 1555,1070"/>
<polyline vector-effect="non-scaling-stroke" stroke="#6a1a5a" points="880,1240 960,1240 1010,1280 1060,1270 1120,1230 1200,1240 1260,1250 1300,1200 1340,1150 1400,1170 1450,1200 1480,1230 1520,1200 1555,1160"/>
<polyline vector-effect="non-scaling-stroke" stroke="#f0c020" points="880,1110 900,1290 960,1290 1000,1150 1030,950 1050,1000 1070,1100 1090,1050 1120,1000 1150,1000 1180,1060 1220,1020 1250,900 1280,720 1300,670 1320,720 1340,960 1370,1150 1420,1170 1480,1190 1520,1170 1540,1080 1555,1150"/>
<polyline vector-effect="non-scaling-stroke" stroke="#4a3a9a" points="880,1250 960,1240 980,1230 1010,1050 1040,1000 1070,1080 1090,1000 1110,1100 1140,1070 1170,1070 1200,1100 1240,1000 1270,820 1285,740 1300,560 1315,660 1330,830 1355,1120 1380,1110 1420,1150 1470,1180 1520,1170 1555,1170"/>
<polyline vector-effect="non-scaling-stroke" stroke="#17807f" points="880,1290 960,1290 990,1200 1010,1050 1030,660 1045,600 1055,560 1065,700 1078,570 1090,680 1098,780 1110,500 1118,400 1125,390 1132,335 1140,400 1145,500 1155,570 1175,570 1190,670 1215,540 1230,560 1250,720 1270,750 1290,720 1310,650 1330,730 1360,840 1380,900 1400,880 1420,950 1440,1000 1470,1050 1500,1100 1530,1110 1545,1240 1555,1280"/>
<polyline vector-effect="non-scaling-stroke" stroke="#d02020" stroke-width="2.8" points="880,1300 920,1305 960,1300 1000,1240 1030,1120 1050,1010 1070,870 1085,870 1095,1000 1105,880 1115,1010 1140,1180 1160,1150 1180,1210 1200,1170 1220,1180 1240,1240 1270,1100 1300,1010 1320,940 1340,1050 1355,1160 1380,1180 1400,1170 1420,1160"/>
</g>
</svg>
</div></body></html>
